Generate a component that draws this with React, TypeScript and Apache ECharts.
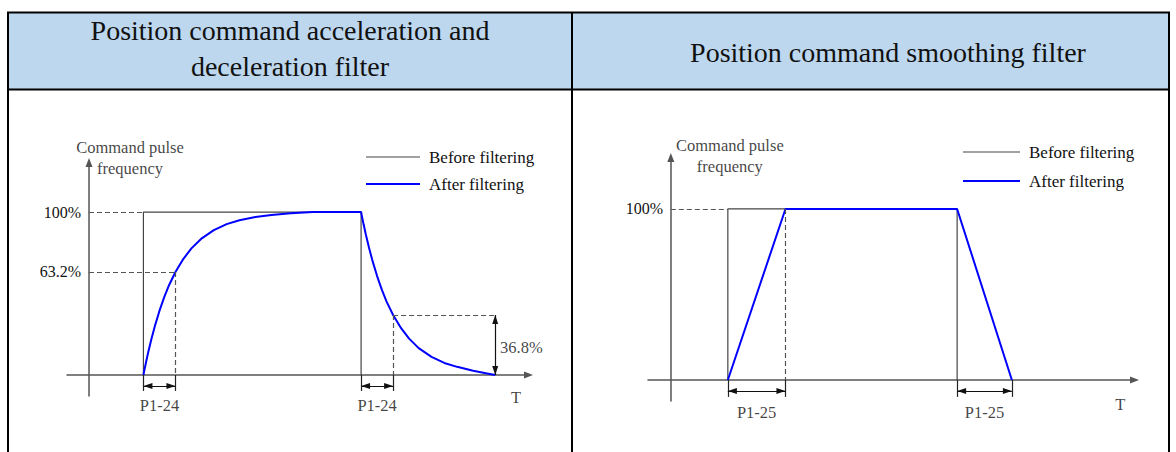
import { useEffect, useRef } from "react";
import * as echarts from "echarts";

const FONT = "'Liberation Serif', 'Times New Roman', serif";

// ---- texts ----
const headerLeftLines = ["Position command acceleration and", "deceleration filter"];
const headerRightText = "Position command smoothing filter";
const seriesNames = ["Before filtering", "After filtering"];
const yTitle = "Command pulse\nfrequency";
const timeLabel = "T";

// ---- left panel: acceleration / deceleration filter (time in filter time constants) ----
const accBefore: number[][] = [[1.7, 0], [1.7, 100], [8.5, 100], [8.5, 0]];
const accAfter: number[][] = [
  [1.7, 0], [1.73, 3], [1.78, 7.7], [1.85, 13.9], [1.95, 22.1], [2.05, 29.5], [2.2, 39.3],
  [2.35, 47.8], [2.5, 55.1], [2.7, 63.2], [2.95, 71.3], [3.2, 77.7], [3.5, 83.5], [3.9, 88.9],
  [4.3, 92.6], [4.7, 95], [5.2, 97], [5.7, 98.2], [6.3, 99.2], [7, 100], [8.5, 100],
  [8.53, 97], [8.58, 92.3], [8.65, 86.1], [8.75, 77.9], [8.85, 70.5], [9.0, 60.7], [9.15, 52.2],
  [9.3, 44.9], [9.5, 36.8], [9.75, 28.7], [10.0, 22.3], [10.3, 16.5], [10.7, 11.1], [11.1, 7.4],
  [11.5, 5], [12.0, 2.6], [12.4, 1], [12.69, 0],
];
const accYLabels = [100, 63.2];
const accGuides: number[][][] = [
  [[0, 100], [1.7, 100]],
  [[0, 63.2], [2.7, 63.2]],
  [[2.7, 63.2], [2.7, 0]],
  [[9.5, 36.8], [12.69, 36.8]],
  [[9.5, 36.8], [9.5, 0]],
];
const accTicks = [1.7, 2.7, 8.5, 9.5];
const accSpans: number[][] = [[1.7, 2.7], [8.5, 9.5]];
const accSpanLabel = "P1-24";
const accDrop: number[][] = [[12.69, 36.8], [12.69, 0]];
const accDropLabel = "36.8%";

// ---- right panel: smoothing filter ----
const smBefore: number[][] = [[1, 0], [1, 100], [5.02, 100], [5.02, 0]];
const smAfter: number[][] = [[1, 0], [2.01, 100], [5.02, 100], [5.98, 0]];
const smYLabels = [100];
const smGuides: number[][][] = [
  [[0, 100], [1, 100]],
  [[2.01, 100], [2.01, 0]],
];
const smTicks = [1, 2.01, 5.02, 5.98];
const smSpans: number[][] = [[1, 2.01], [5.02, 5.98]];
const smSpanLabel = "P1-25";

type Panel = {
  grid: { left: number; top: number; width: number; height: number };
  x: [number, number];
  y: [number, number];
  labelMargin: number;
  before: number[][];
  after: number[][];
  yLabels: number[];
  guides: number[][][];
  ticks: number[];
  spans: number[][];
  spanLabel: string;
  drop?: number[][];
  dropLabel?: string;
  tickDepth: number;
  arrowLevel: number;
  spanLabelY: number;
  titlePos: number[];
  tPos: number[];
  dropLabelPos?: number[];
  legend: { left: number; top: number; itemWidth: number; itemGap: number };
};

const panels: Panel[] = [
  {
    grid: { left: 67, top: 162.5, width: 461.5, height: 233.5 },
    x: [-0.6875, 13.73],
    y: [-12.9, 130.4],
    labelMargin: -14,
    before: accBefore,
    after: accAfter,
    yLabels: accYLabels,
    guides: accGuides,
    ticks: accTicks,
    spans: accSpans,
    spanLabel: accSpanLabel,
    drop: accDrop,
    dropLabel: accDropLabel,
    tickDepth: -9.8,
    arrowLevel: -6.7,
    spanLabelY: -19,
    titlePos: [1.28, 133.4],
    tPos: [13.34, -14.1],
    dropLabelPos: [12.84, 16.6],
    legend: { left: 361, top: 143.5, itemWidth: 54, itemGap: 10 },
  },
  {
    grid: { left: 648, top: 157.5, width: 486.5, height: 243.5 },
    x: [-0.4, 8.13],
    y: [-12.3, 130.1],
    labelMargin: -15,
    before: smBefore,
    after: smAfter,
    yLabels: smYLabels,
    guides: smGuides,
    ticks: smTicks,
    spans: smSpans,
    spanLabel: smSpanLabel,
    tickDepth: -9.9,
    arrowLevel: -6.4,
    spanLabelY: -19.3,
    titlePos: [1.035, 130.7],
    tPos: [7.88, -14.6],
    legend: { left: 958, top: 138.5, itemWidth: 57, itemGap: 12 },
  },
];

const textColor = "#111";
const legendIcons = ["path://M0,0 H100 V2 H0 Z", "path://M0,0 H100 V3.6 H0 Z"];

function buildOption() {
  const grid: any[] = [];
  const xAxis: any[] = [];
  const yAxis: any[] = [];
  const series: any[] = [];
  const legend: any[] = [];

  panels.forEach((p, i) => {
    grid.push({ ...p.grid, containLabel: false });
    xAxis.push({
      type: "value",
      gridIndex: i,
      min: p.x[0],
      max: p.x[1],
      axisLine: {
        onZero: true,
        symbol: ["none", "triangle"],
        symbolSize: [7, 9],
        lineStyle: { color: "#555", width: 1.5 },
      },
      axisTick: { show: false },
      axisLabel: { show: false },
      splitLine: { show: false },
    });
    yAxis.push({
      type: "value",
      gridIndex: i,
      min: p.y[0],
      max: p.y[1],
      axisLine: {
        onZero: true,
        symbol: ["none", "triangle"],
        symbolSize: [7, 9],
        lineStyle: { color: "#555", width: 1.5 },
      },
      axisTick: { show: false },
      axisLabel: {
        customValues: p.yLabels,
        formatter: (v: number) => `${v}%`,
        fontFamily: FONT,
        fontSize: 16,
        color: textColor,
        margin: p.labelMargin,
      },
      splitLine: { show: false },
    });

    series.push({
      type: "line",
      name: seriesNames[0],
      xAxisIndex: i,
      yAxisIndex: i,
      data: p.before,
      symbol: "none",
      lineStyle: { color: "#444", width: 1.2 },
      itemStyle: { color: "#444" },
      z: 3,
    });
    series.push({
      type: "line",
      name: seriesNames[1],
      xAxisIndex: i,
      yAxisIndex: i,
      data: p.after,
      symbol: "none",
      lineStyle: { color: "#0000ff", width: 2 },
      itemStyle: { color: "#0000ff" },
      z: 4,
    });

    const guideLines = p.guides.map(([a, b]) => [{ coord: a }, { coord: b }]);
    const tickLines = p.ticks.map((x) => [
      { coord: [x, 0], lineStyle: { type: "solid", color: "#222", width: 1.2 } },
      { coord: [x, p.tickDepth] },
    ]);
    series.push({
      type: "line",
      xAxisIndex: i,
      yAxisIndex: i,
      data: [],
      silent: true,
      markLine: {
        silent: true,
        symbol: "none",
        label: { show: false },
        lineStyle: { type: [5, 3], color: "#555", width: 1.2 },
        emphasis: { disabled: true },
        data: [...guideLines, ...tickLines],
      },
    });

    const arrowLines: any[] = p.spans.map(([a, b]) => [
      { coord: [a, p.arrowLevel] },
      { coord: [b, p.arrowLevel] },
    ]);
    if (p.drop) arrowLines.push([{ coord: p.drop[0] }, { coord: p.drop[1] }]);
    series.push({
      type: "line",
      xAxisIndex: i,
      yAxisIndex: i,
      data: [],
      silent: true,
      markLine: {
        silent: true,
        symbol: ["triangle", "triangle"],
        symbolSize: [6, 9],
        symbolOffset: [[0, 4.5], [0, 4.5]],
        label: { show: false },
        lineStyle: { type: "solid", color: "#111", width: 1.2 },
        itemStyle: { color: "#111" },
        emphasis: { disabled: true },
        data: arrowLines,
      },
    });

    const texts: any[] = [
      { name: yTitle, value: p.titlePos },
      { name: timeLabel, value: p.tPos },
      ...p.spans.map(([a, b]) => ({ name: p.spanLabel, value: [(a + b) / 2, p.spanLabelY] })),
    ];
    if (p.dropLabel && p.dropLabelPos) {
      texts.push({
        name: p.dropLabel,
        value: p.dropLabelPos,
        label: { position: "right", distance: 0, align: "left" },
      });
    }
    series.push({
      type: "scatter",
      xAxisIndex: i,
      yAxisIndex: i,
      symbolSize: 0,
      clip: false,
      silent: true,
      data: texts,
      label: {
        show: true,
        position: "inside",
        formatter: "{b}",
        fontFamily: FONT,
        fontSize: 16.5,
        lineHeight: 21,
        color: textColor,
        align: "center",
        verticalAlign: "middle",
      },
    });

    legend.push({
      orient: "vertical",
      left: p.legend.left,
      top: p.legend.top,
      itemWidth: p.legend.itemWidth,
      itemHeight: 14,
      itemGap: p.legend.itemGap,
      data: seriesNames.map((n, k) => ({ name: n, icon: legendIcons[k] })),
      selectedMode: false,
      textStyle: {
        fontFamily: FONT,
        fontSize: 17,
        lineHeight: 17,
        color: textColor,
        padding: [0, 0, 0, 4],
      },
    });
  });

  const border = { stroke: "#000", lineWidth: 2 };
  const headerFont = { fontFamily: FONT, fontSize: 28, fill: "#111", align: "center", verticalAlign: "middle" };
  const graphic: any[] = [
    { type: "rect", shape: { x: 8, y: 12, width: 1161, height: 78 }, style: { fill: "#BDD7EE" }, z: 0 },
    { type: "line", shape: { x1: 7, y1: 12.5, x2: 1170, y2: 12.5 }, style: border, z: 1 },
    { type: "line", shape: { x1: 7, y1: 89.5, x2: 1170, y2: 89.5 }, style: border, z: 1 },
    { type: "line", shape: { x1: 8, y1: 12, x2: 8, y2: 452 }, style: border, z: 1 },
    { type: "line", shape: { x1: 572, y1: 12, x2: 572, y2: 452 }, style: border, z: 1 },
    { type: "line", shape: { x1: 1169, y1: 12, x2: 1169, y2: 452 }, style: border, z: 1 },
    { type: "text", x: 290, y: 30, style: { ...headerFont, text: headerLeftLines[0] }, z: 2 },
    { type: "text", x: 290, y: 66, style: { ...headerFont, text: headerLeftLines[1] }, z: 2 },
    { type: "text", x: 888, y: 52, style: { ...headerFont, text: headerRightText }, z: 2 },
  ];

  return {
    animation: false,
    backgroundColor: "#fff",
    grid,
    xAxis,
    yAxis,
    legend,
    series,
    graphic,
  };
}

export default function App() {
  const ref = useRef<HTMLDivElement>(null);
  useEffect(() => {
    if (!ref.current) return;
    const chart = echarts.init(ref.current, undefined, { renderer: "svg" });
    chart.setOption(buildOption() as any);
    return () => chart.dispose();
  }, []);
  return (
    <div
      ref={ref}
      style={{ position: "fixed", left: 0, top: 0, width: 1176, height: 452, background: "#fff" }}
    />
  );
}
